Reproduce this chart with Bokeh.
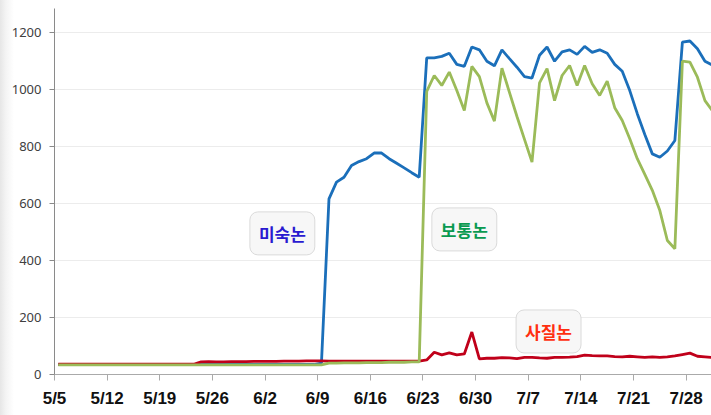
from bokeh.plotting import figure
from bokeh.models import FixedTicker, Label, Range1d
from bokeh.embed import file_html
from bokeh.resources import INLINE

# ---- data (daily, 5/5 .. 7/31) ----
tick_days = [0, 7, 14, 21, 28, 35, 42, 49, 56, 63, 70, 77, 84]
tick_labels = ["5/5", "5/12", "5/19", "5/26", "6/2", "6/9", "6/16",
               "6/23", "6/30", "7/7", "7/14", "7/21", "7/28"]

misuk = ([35] * 35 + [40,
          616, 675, 692, 733, 747, 757, 777, 777, 757, 741, 725, 708, 692,
          1111, 1111, 1116, 1127, 1088, 1081, 1149, 1139, 1099, 1083, 1139,
          1108, 1078, 1045, 1040, 1120, 1149, 1099, 1132, 1139, 1123, 1151,
          1130, 1139, 1127, 1088, 1064, 996, 915, 842, 774, 762, 784, 821,
          1166, 1170, 1143, 1099, 1085])

botong = ([34] * 36 + [40, 40, 41, 41, 41, 42, 42, 42, 43, 43, 43, 44, 44,
          993, 1049, 1014, 1061, 996, 926, 1081, 1045, 953, 889, 1075,
          990, 905, 825, 745, 1023, 1073, 961, 1049, 1084, 1014, 1084,
          1020, 979, 1029, 936, 891, 827, 757, 702, 646, 575, 470, 441,
          1099, 1096, 1043, 961, 925])

sajil = ([36] * 19 + [44, 45, 44, 44, 45, 45, 45, 46, 46, 46, 46, 47, 47, 47, 48, 48, 48,
         47, 47, 47, 47, 47, 47, 47, 47, 47, 47, 47, 47, 47,
         51, 78, 69, 76, 69, 72, 149, 55, 57, 57, 59,
         58, 56, 60, 60, 58, 57, 60, 60, 61, 63, 68,
         66, 65, 65, 63, 62, 64, 62, 60, 62, 60, 62, 65,
         70, 75, 64, 62, 60])

n = len(misuk)
x = [i + 0.5 for i in range(n)]

p = figure(width=711, height=415, output_backend="svg", toolbar_location=None,
           x_range=Range1d(0, 87.37), y_range=Range1d(0, 1284),
           min_border_left=54, min_border_right=0, min_border_top=8,
           min_border_bottom=41)
p.outline_line_color = None
p.background_fill_color = "white"
p.border_fill_color = None
p.styles = {"background": "linear-gradient(to right, #e6e6e6 0px, #f4f4f4 6px, #ffffff 14px)"}

p.line(x, misuk, line_color="#1b6fba", line_width=2.8)
p.line(x, sajil, line_color="#c0001a", line_width=2.8)
p.line(x, botong, line_color="#9bbb59", line_width=2.8)

# axes
p.xaxis.ticker = FixedTicker(ticks=tick_days)
p.xaxis.major_label_overrides = {d: l for d, l in zip(tick_days, tick_labels)}
p.xaxis.minor_tick_line_color = None
p.xaxis.major_tick_in = 0
p.xaxis.major_tick_out = 6
p.xaxis.axis_line_color = "#aaaaaa"
p.xaxis.major_tick_line_color = "#aaaaaa"
p.xaxis.major_label_text_font = "Liberation Sans"
p.xaxis.major_label_text_font_style = "bold"
p.xaxis.major_label_text_font_size = "17px"
p.xaxis.major_label_text_color = "#111111"
p.xaxis.major_label_standoff = 8

p.yaxis.ticker = FixedTicker(ticks=[0, 200, 400, 600, 800, 1000, 1200])
p.yaxis.minor_tick_line_color = None
p.yaxis.major_tick_in = 0
p.yaxis.major_tick_out = 5
p.yaxis.axis_line_color = "#8a8a8a"
p.yaxis.major_tick_line_color = "#8a8a8a"
p.yaxis.major_label_text_font = "Noto Sans"
p.yaxis.major_label_text_font_size = "13px"
p.yaxis.major_label_text_color = "#404040"
p.yaxis.major_label_standoff = 8

p.xgrid.grid_line_color = None
p.ygrid.grid_line_color = "#ececec"
p.ygrid.ticker = FixedTicker(ticks=[200, 400, 600, 800, 1000, 1200])

# labels
labels = [("미숙논", 30.3, 495, "#2a1ad0"),
          ("보통논", 54.5, 509, "#0a9a50"),
          ("사질논", 65.7, 151, "#ff3010")]
for txt, lx, ly, col in labels:
    shadow = Label(x=lx, y=ly, text=txt, x_offset=2, y_offset=-3,
                   text_align="center", text_baseline="middle",
                   text_font="Noto Sans CJK KR", text_font_size="17px",
                   text_font_style="bold", text_alpha=0.0,
                   background_fill_color="#9a9a9a", background_fill_alpha=0.45,
                   border_radius=8, padding=9)
    lab = Label(x=lx, y=ly, text=txt,
                text_align="center", text_baseline="middle",
                text_font="Noto Sans CJK KR", text_font_size="17px",
                text_font_style="bold", text_color=col,
                background_fill_color="#f7f7f7", background_fill_alpha=1.0,
                border_line_color="#dadada", border_line_width=1,
                border_radius=8, padding=9)
    p.add_layout(shadow)
    p.add_layout(lab)

open("out.html", "w").write(file_html(p, INLINE))
